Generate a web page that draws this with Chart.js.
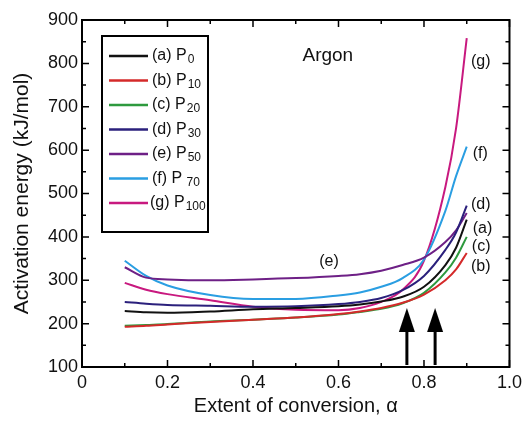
<!DOCTYPE html>
<html>
<head>
<meta charset="utf-8">
<script src="https://cdn.jsdelivr.net/npm/chart.js@4.4.1/dist/chart.umd.min.js"></script>
<style>
  body { margin: 0; background: #fff; }
  #wrap { width: 527px; height: 422px; }
</style>
</head>
<body>
<div id="wrap"><canvas id="chart" width="527" height="422"></canvas></div>
<script>
// data
const alpha = [0.1, 0.15, 0.2, 0.3, 0.4, 0.5, 0.6, 0.65, 0.7, 0.75, 0.8, 0.85, 0.875, 0.9];
const seriesA = [229, 226, 225, 228, 233, 236, 240, 244, 251, 262, 285, 335, 375, 440];
const seriesB = [193, 195, 198, 204, 209, 214, 222, 228, 236, 248, 267, 300, 325, 363];
const seriesC = [195, 197, 199, 205, 209, 214, 221, 227, 234, 247, 271, 318, 352, 400];
const seriesD = [250, 246, 243, 241, 239, 240, 245, 250, 259, 277, 310, 370, 410, 472];
const seriesE = [330, 306, 302, 300, 302, 305, 310, 314, 322, 335, 352, 388, 415, 455];
const seriesF = [345, 310, 288, 266, 257, 257, 265, 272, 285, 305, 348, 460, 540, 608];
const seriesG = [294, 278, 268, 254, 239, 232, 231, 236, 250, 278, 345, 515, 650, 858];

const legendMain = ['(a) P', '(b) P', '(c) P', '(d) P', '(e) P', '(f) P', '(g) P'];
const legendSub = ['0', '10', '20', '30', '50', ' 70', '100'];
const endTags = ['(a)', '(b)', '(c)', '(d)', '(e)', '(f)', '(g)'];
const colors = ['#111111', '#d42a2a', '#2e9a3e', '#2b207c', '#6e2086', '#2a9ee2', '#c8197f'];
const arrowAlpha = [0.76, 0.826];
const arrowTop = 236;

const allSeries = [seriesA, seriesB, seriesC, seriesD, seriesE, seriesF, seriesG];
const FONT = '"Liberation Sans", Arial, sans-serif';

const datasets = allSeries.map((s, i) => ({
  label: legendMain[i] + legendSub[i],
  data: s.map((v, k) => ({ x: alpha[k], y: v })),
  borderColor: colors[i],
  borderWidth: 2,
  pointRadius: 0,
  fill: false,
  cubicInterpolationMode: 'monotone'
}));

// frame, inward ticks, legend box, tags and arrows
const decor = {
  id: 'decor',
  afterDatasetsDraw(chart) {
    const { ctx, chartArea: a, scales: { x, y } } = chart;
    ctx.save();
    ctx.strokeStyle = '#000';
    ctx.lineWidth = 2;
    ctx.strokeRect(a.left, a.top, a.right - a.left, a.bottom - a.top);

    ctx.lineWidth = 1.5;
    ctx.beginPath();
    for (let v = 0; v <= 1.0001; v += 0.1) {
      const px = x.getPixelForValue(v);
      const len = Math.round(v * 10) % 2 === 0 ? 7 : 4;
      ctx.moveTo(px, a.bottom); ctx.lineTo(px, a.bottom - len);
      ctx.moveTo(px, a.top); ctx.lineTo(px, a.top + len);
    }
    for (let v = 100; v <= 900; v += 50) {
      const py = y.getPixelForValue(v);
      const len = v % 100 === 0 ? 7 : 4;
      ctx.moveTo(a.left, py); ctx.lineTo(a.left + len, py);
      ctx.moveTo(a.right, py); ctx.lineTo(a.right - len, py);
    }
    ctx.stroke();

    // legend box
    const lx = 102, ly = 36, lw = 106, lh = 196;
    ctx.textBaseline = 'middle';
    legendMain.forEach((t, i) => {
      const ry = 56 + i * 24.5;
      ctx.strokeStyle = colors[i];
      ctx.lineWidth = 2.5;
      ctx.beginPath();
      ctx.moveTo(109, ry); ctx.lineTo(148, ry);
      ctx.stroke();
      ctx.fillStyle = '#111';
      ctx.font = '16px ' + FONT;
      ctx.textAlign = 'left';
      const tx = i === 6 ? 150 : 152;
      ctx.fillText(t, tx, ry);
      const w = ctx.measureText(t).width;
      ctx.font = '12px ' + FONT;
      ctx.fillText(legendSub[i], tx + w + 1, ry + 4);
    });
    ctx.fillStyle = '#fff';
    ctx.fillRect(lx + lw, ly, 4, lh);
    ctx.strokeStyle = '#000';
    ctx.lineWidth = 2;
    ctx.strokeRect(lx, ly, lw, lh);

    // annotations
    ctx.fillStyle = '#111';
    ctx.font = '19px ' + FONT;
    ctx.textAlign = 'center';
    ctx.fillText('Argon', x.getPixelForValue(0.575), y.getPixelForValue(818));
    ctx.font = '16px ' + FONT;
    ctx.textAlign = 'left';
    const tagPos = [[0.914, 420], [0.91, 331], [0.912, 377], [0.91, 474], [0.555, 342], [0.914, 591], [0.91, 803]];
    endTags.forEach((t, i) => {
      const p = tagPos[i];
      ctx.fillText(t, x.getPixelForValue(p[0]), y.getPixelForValue(p[1]));
    });

    // arrows
    arrowAlpha.forEach(v => {
      const px = x.getPixelForValue(v);
      const top = y.getPixelForValue(arrowTop);
      const bot = a.bottom - 2;
      ctx.strokeStyle = '#000';
      ctx.lineWidth = 3;
      ctx.beginPath();
      ctx.moveTo(px, bot); ctx.lineTo(px, top + 18);
      ctx.stroke();
      ctx.fillStyle = '#000';
      ctx.beginPath();
      ctx.moveTo(px, top);
      ctx.lineTo(px - 8, top + 24);
      ctx.lineTo(px + 8, top + 24);
      ctx.closePath();
      ctx.fill();
    });
    ctx.restore();
  }
};

new Chart(document.getElementById('chart'), {
  type: 'line',
  data: { datasets },
  options: {
    responsive: false,
    animation: false,
    layout: { padding: { top: 20, right: 15, left: 6, bottom: 0 } },
    plugins: { legend: { display: false }, tooltip: { enabled: false } },
    scales: {
      x: {
        type: 'linear', min: 0, max: 1,
        grid: { display: false, drawTicks: false },
        border: { display: false },
        afterFit(s) { s.height = 55; },
        ticks: {
          stepSize: 0.2, padding: 5,
          color: '#111', font: { family: FONT, size: 18 },
          callback: v => (v === 0 ? '0' : v.toFixed(1))
        },
        title: {
          display: true, text: 'Extent of conversion, α',
          color: '#111', font: { family: FONT, size: 20 }, padding: { top: 3 }
        }
      },
      y: {
        min: 100, max: 900,
        grid: { display: false, drawTicks: false },
        border: { display: false },
        afterFit(s) { s.width = 76; },
        ticks: {
          stepSize: 100, padding: 4,
          color: '#111', font: { family: FONT, size: 18 }
        },
        title: {
          display: true, text: 'Activation energy (kJ/mol)',
          color: '#111', font: { family: FONT, size: 21 }, padding: { bottom: 2 }
        }
      }
    }
  },
  plugins: [decor]
});
</script>
</body>
</html>
